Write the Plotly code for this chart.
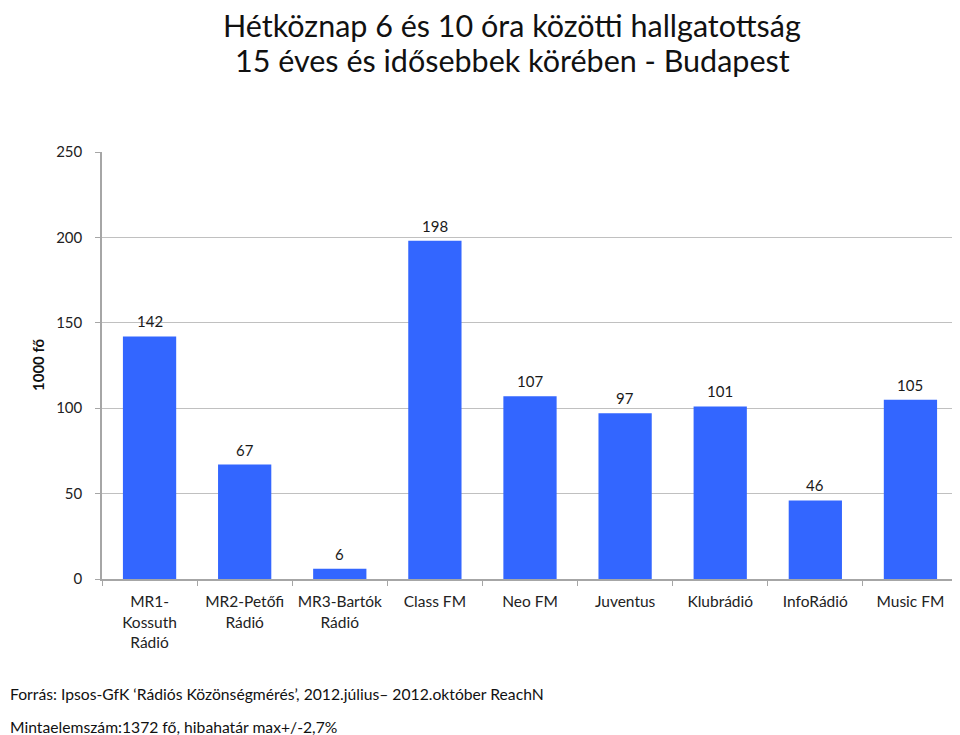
import plotly.graph_objects as go

categories = ["MR1-<br>Kossuth<br>Rádió", "MR2-Petőfi<br>Rádió", "MR3-Bartók<br>Rádió",
              "Class FM", "Neo FM", "Juventus", "Klubrádió", "InfoRádió", "Music FM"]
values = [142, 67, 6, 198, 107, 97, 101, 46, 105]
y_ticks = [0, 50, 100, 150, 200, 250]

title_lines = ["Hétköznap 6 és 10 óra közötti hallgatottság",
               "15 éves és idősebbek körében - Budapest"]
footer_lines = ["Forrás: Ipsos-GfK ‘Rádiós Közönségmérés’, 2012.július– 2012.október ReachN",
                "Mintaelemszám:1372 fő, hibahatár max+/-2,7%"]
y_title = "1000 fő"

FONT = "Lato, 'Open Sans', sans-serif"
BAR = "#3366FF"
AXIS = "#A6A6A6"

# page body has an 8px margin; work in page coordinates then shift
OFF = 8
W, H = 960 - OFF, 735 - OFF
L, R, T, B = 102 - OFF, 2, 152 - OFF, 735 - 579
pw, ph = W - L - R, H - T - B

fig = go.Figure()
fig.add_trace(go.Bar(x=categories, y=values, marker=dict(color=BAR, line=dict(width=0)),
                     hoverinfo="x+y"))

annotations = []
for c, v in zip(categories, values):
    annotations.append(dict(x=c, y=v, xref="x", yref="y", text=str(v), showarrow=False,
                            yanchor="bottom", yshift=4,
                            font=dict(family=FONT, size=15, color="#1a1a1a")))

def px(xp, yp):
    return (xp - OFF - L) / pw, (H - B - (yp - OFF)) / ph

for i, line in enumerate(title_lines):
    x, y = px(512, [25, 60][i])
    annotations.append(dict(x=x, y=y, xref="paper", yref="paper", text=line,
                            showarrow=False, xanchor="center", yanchor="middle",
                            font=dict(family=FONT, size=30.5, color="#111")))
for i, line in enumerate(footer_lines):
    x, y = px(OFF, [694, 727][i])
    annotations.append(dict(x=x, y=y, xref="paper", yref="paper", text=line,
                            showarrow=False, xanchor="left", yanchor="middle",
                            font=dict(family=FONT, size=15.7, color="#111")))
x, y = px(38, 365)
annotations.append(dict(x=x, y=y, xref="paper", yref="paper", text="<b>" + y_title + "</b>",
                        textangle=-90, showarrow=False, xanchor="center", yanchor="middle",
                        font=dict(family=FONT, size=15, color="#111")))

fig.update_layout(
    width=W, height=H,
    margin=dict(l=L, r=R, t=T, b=B, autoexpand=False),
    paper_bgcolor="white", plot_bgcolor="white",
    showlegend=False, bargap=0.44,
    annotations=annotations,
    font=dict(family=FONT, size=15, color="#222"),
)
fig.update_xaxes(showline=True, linecolor=AXIS, linewidth=1.5, ticks="outside", tickson="boundaries",
                 ticklen=5, tickcolor=AXIS, tickfont=dict(family=FONT, size=15.5, color="#222"),
                 showgrid=False, automargin=False, ticklabelstandoff=8)
fig.update_yaxes(range=[0, 250], tickvals=y_ticks, showline=True, linecolor=AXIS, linewidth=1.5,
                 ticks="outside", ticklen=5, tickcolor=AXIS, showgrid=True, gridcolor="#C0C0C0",
                 gridwidth=1, zeroline=False, ticklabelstandoff=10, automargin=False,
                 tickfont=dict(family=FONT, size=15, color="#222"))

fig.write_html("out.html")
